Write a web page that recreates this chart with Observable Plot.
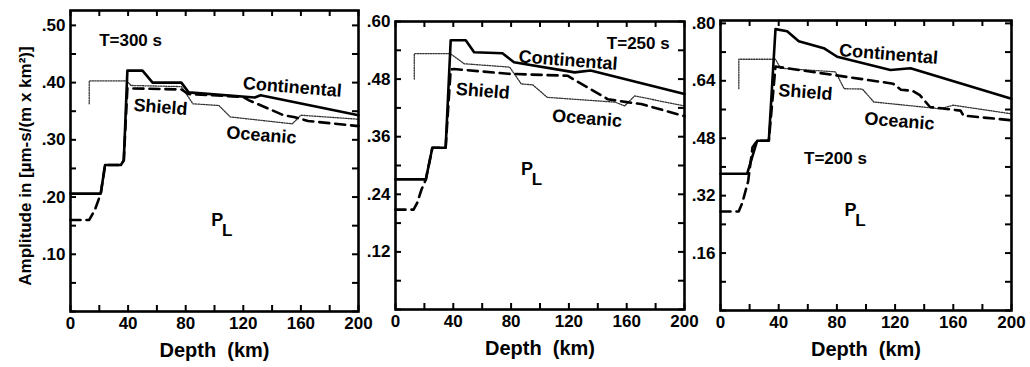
<!DOCTYPE html>
<html><head><meta charset="utf-8">
<script src="https://cdn.jsdelivr.net/npm/d3@7"></script>
<script src="https://cdn.jsdelivr.net/npm/@observablehq/plot@0.6"></script>
<style>
body{margin:0;background:#fff}
#wrap{position:relative;width:1030px;height:367px;overflow:hidden;background:#fff}
#wrap svg{position:absolute;top:0}
</style></head><body><div id="wrap"></div>
<script>
// ---- data (depth km, amplitude) ----
const depthTicks = [0, 40, 80, 120, 160, 200];
const depthMinor = [0, 20, 40, 60, 80, 100, 120, 140, 160, 180, 200];

const yTicks300 = [0.10, 0.20, 0.30, 0.40, 0.50];
const yTicks250 = [0.12, 0.24, 0.36, 0.48, 0.60];
const yTicks200 = [0.16, 0.32, 0.48, 0.64, 0.80];

const continental300 = [[0,.206],[21,.206],[24,.256],[35,.256],[37,.264],[39.5,.421],[50,.421],[57,.400],[77,.400],[82,.383],[128,.374],[132,.378],[200,.343]];
const shield300 = [[0,.160],[13,.160],[17,.178],[21,.206],[24,.256],[35,.256],[37,.264],[39.5,.390],[77,.388],[82,.380],[120,.375],[124,.369],[148,.343],[155,.340],[165,.333],[200,.324]];
const oceanic300 = [[13,.363],[13,.403],[39,.403],[42,.395],[77,.393],[85,.363],[103,.360],[111,.340],[154,.328],[160,.343],[200,.336]];

const continental250 = [[0,.271],[21,.271],[25.5,.337],[34.7,.337],[38.2,.561],[48.6,.561],[54.4,.536],[74,.534],[82,.515],[124,.494],[135,.498],[200,.449]];
const shield250 = [[0,.208],[12.5,.208],[15,.222],[18,.250],[21,.271],[25.5,.337],[34.7,.337],[38.2,.500],[40.5,.501],[78,.491],[119,.487],[147,.438],[160,.432],[170,.428],[200,.403]];
const oceanic250 = [[13,.480],[13,.533],[38,.533],[47.5,.512],[79,.505],[87,.470],[95,.468],[105,.442],[152,.432],[158.6,.424],[165.5,.445],[200,.424]];

const continental200 = [[0,.381],[18.3,.381],[25.2,.473],[33.2,.473],[37.8,.784],[45.8,.778],[53.8,.750],[71,.731],[80.2,.707],[116.8,.670],[130.6,.675],[200,.590]];
const shield200 = [[0,.276],[12.5,.276],[15,.300],[19,.360],[22,.455],[25.2,.473],[33.2,.473],[37.8,.680],[39,.679],[78,.656],[118.6,.632],[124,.615],[132,.612],[137,.600],[144,.567],[165,.557],[167,.543],[200,.530]];
const oceanic200 = [[12.6,.618],[12.6,.700],[37.8,.700],[41.2,.675],[79,.665],[85,.618],[97.5,.617],[105.4,.581],[151,.562],[160,.572],[200,.548]];

// annotation anchors (depth, amplitude)
const notes300 = [{t:"T=300 s",d:41.7,a:.474,k:"title"},{t:"Continental",d:154,a:.392,k:"name"},{t:"Shield",d:62.5,a:.357,k:"name"},{t:"Oceanic",d:132.6,a:.308,k:"name"},{t:"P",d:101.9,a:.159,k:"p"}];
const notes250 = [{t:"T=250 s",d:168,a:.555,k:"title"},{t:"Continental",d:119.4,a:.519,k:"name"},{t:"Shield",d:60.4,a:.455,k:"name"},{t:"Oceanic",d:132.6,a:.398,k:"name"},{t:"P",d:91,a:.292,k:"p"}];
const notes200 = [{t:"T=200 s",d:79,a:.424,k:"title"},{t:"Continental",d:115.5,a:.714,k:"name"},{t:"Shield",d:58.4,a:.608,k:"name"},{t:"Oceanic",d:123,a:.527,k:"name"},{t:"P",d:89.3,a:.278,k:"p"}];

const yLabel = "Amplitude in [µm-s/(m x km²)]";
const xLabel = "Depth\u00a0\u00a0(km)";

const FONT = "'Liberation Sans', Arial, Helvetica, sans-serif";
const H_TOTAL = 367;

function minorOf(ticks) {
  const step = ticks[0] / 2, out = [];
  const max = ticks[ticks.length - 1];
  for (let i = 0; i * step <= max + 1e-9; i++) out.push(+(i * step).toFixed(4));
  return out;
}

function panel({left, width, mL, mR, mT, mB, ymax, yTicks, cont, shield, ocean, notes, showYLabel}) {
  const H = H_TOTAL - mT - mB, W = width - mL - mR;
  const yMinor = minorOf(yTicks);
  const fmt = d => d3.format(".2f")(d).replace(/^0/, "");
  const marks = [
    Plot.line(ocean, {x: d => d[0], y: d => d[1], stroke: "#333", strokeWidth: 1.3, strokeDasharray: "1.3,1.3"}),
    Plot.line(shield, {x: d => d[0], y: d => d[1], stroke: "#000", strokeWidth: 2.6, strokeDasharray: "10,6"}),
    Plot.line(cont, {x: d => d[0], y: d => d[1], stroke: "#000", strokeWidth: 2.6}),
    Plot.frame({stroke: "#000", strokeWidth: 2.6}),
    Plot.tickX(depthMinor, {x: d => d, insetTop: H - 6, strokeWidth: 2}),
    Plot.tickX(depthMinor, {x: d => d, insetBottom: H - 6, strokeWidth: 2}),
    Plot.tickY(yMinor, {y: d => d, insetRight: W - 6, strokeWidth: 2}),
    Plot.tickY(yMinor, {y: d => d, insetLeft: W - 6, strokeWidth: 2}),
    Plot.axisX({ticks: depthTicks, tickSize: 0, tickPadding: 5, label: null, fontSize: 17, fontWeight: "bold"}),
    Plot.axisY({ticks: yTicks, tickSize: 0, tickPadding: 5, label: null, tickFormat: fmt, fontSize: 17, fontWeight: "bold"}),
    Plot.text(notes.filter(n => n.k === "name"), {x: "d", y: "a", text: "t", fontSize: 18, fontWeight: "bold", rotate: 4.5}),
    Plot.text(notes.filter(n => n.k === "title"), {x: "d", y: "a", text: "t", fontSize: 17, fontWeight: "bold"}),
    Plot.text(notes.filter(n => n.k === "p"), {x: "d", y: "a", text: "t", fontSize: 18, fontWeight: "bold"}),
    Plot.text(notes.filter(n => n.k === "p"), {x: "d", y: "a", text: () => "L", fontSize: 17, fontWeight: "bold", dx: 10, dy: 10}),
    Plot.text([xLabel], {frameAnchor: "bottom", text: d => d, dy: 45, fontSize: 20, fontWeight: "bold"})
  ];
  if (showYLabel) marks.push(Plot.text([yLabel], {frameAnchor: "left", textAnchor: "middle", text: d => d, dx: -45, dy: 5, rotate: -90, fontSize: 17, fontWeight: "bold"}));
  const svg = Plot.plot({
    width, height: H_TOTAL,
    marginLeft: mL, marginRight: mR, marginTop: mT, marginBottom: mB,
    x: {domain: [0, 200]},
    y: {domain: [0, ymax]},
    style: {fontFamily: FONT, fontWeight: "bold", fontSize: "17px", background: "transparent", overflow: "visible", color: "#000"},
    marks
  });
  svg.style.left = left + "px";
  return svg;
}

const wrap = document.getElementById("wrap");
wrap.appendChild(panel({left: 0, width: 368, mL: 70, mR: 10, mT: 10, mB: 56, ymax: 0.526, yTicks: yTicks300,
  cont: continental300, shield: shield300, ocean: oceanic300, notes: notes300, showYLabel: true}));
wrap.appendChild(panel({left: 362, width: 330, mL: 33, mR: 8, mT: 21, mB: 58, ymax: 0.60, yTicks: yTicks250,
  cont: continental250, shield: shield250, ocean: oceanic250, notes: notes250}));
wrap.appendChild(panel({left: 690, width: 340, mL: 30, mR: 19, mT: 20, mB: 57, ymax: 0.808, yTicks: yTicks200,
  cont: continental200, shield: shield200, ocean: oceanic200, notes: notes200}));
</script></body></html>
